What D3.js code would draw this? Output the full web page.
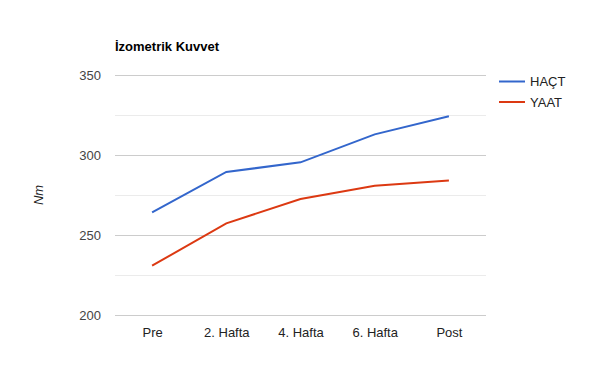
<!DOCTYPE html>
<html><head><meta charset="utf-8">
<script src="https://cdn.jsdelivr.net/npm/d3@7"></script>
<style>body{margin:0;background:#fff}svg{display:block}text{font-family:"Liberation Sans",Arial,sans-serif}</style>
</head><body>
<script>
const categories = ["Pre","2. Hafta","4. Hafta","6. Hafta","Post"];
const seriesNames = ["HAÇT","YAAT"];
const hact = [264.2, 289.4, 295.4, 312.9, 324.2];
const yaat = [230.8, 257.3, 272.5, 280.8, 284.0];
const yTicks = [200, 250, 300, 350];
const yMinor = [225, 275, 325];
const colors = ["#3366cc", "#dc3912"];

const W = 600, H = 390;
const svg = d3.select("body").append("svg").attr("width", W).attr("height", H);
const pLeft = 115, pRight = 486, pTop = 75, pBottom = 315;
const x = d3.scalePoint().domain(categories).range([pLeft, pRight]).padding(0.5);
const y = d3.scaleLinear().domain([200, 350]).range([pBottom, pTop]);

// minor gridlines
svg.append("g").selectAll("line").data(yMinor).join("line")
  .attr("x1", pLeft).attr("x2", pRight).attr("y1", d => y(d)).attr("y2", d => y(d))
  .attr("stroke", "#ebebeb").attr("stroke-width", 1).attr("shape-rendering", "crispEdges");
// major gridlines via axis
const yAxis = svg.append("g").attr("transform", `translate(${pLeft},0)`)
  .call(d3.axisLeft(y).tickValues(yTicks).tickSize(-(pRight - pLeft)).tickPadding(14));
yAxis.select(".domain").remove();
yAxis.selectAll(".tick line").attr("stroke", "#cccccc").attr("shape-rendering", "crispEdges");
yAxis.selectAll(".tick text").attr("fill", "#444").attr("font-size", 13)
  .attr("font-family", '"Liberation Sans",Arial,sans-serif');

const xAxis = svg.append("g").attr("transform", `translate(0,${pBottom})`)
  .call(d3.axisBottom(x).tickSize(0).tickPadding(13));
xAxis.select(".domain").remove();
xAxis.selectAll(".tick text").attr("fill", "#222").attr("font-size", 13)
  .attr("font-family", '"Liberation Sans",Arial,sans-serif');

// lines
const line = d3.line().x((d, i) => x(categories[i])).y(d => y(d));
[hact, yaat].forEach((s, k) => {
  svg.append("path").datum(s).attr("d", line).attr("fill", "none")
    .attr("stroke", colors[k]).attr("stroke-width", 2);
});

// title
svg.append("text").attr("x", 115).attr("y", 50.5).attr("font-size", 13)
  .attr("font-weight", "bold").attr("fill", "#000").text("İzometrik Kuvvet");

// y label
svg.append("text").attr("transform", "translate(43,195) rotate(-90)")
  .attr("text-anchor", "middle").attr("font-size", 13).attr("font-style", "italic")
  .attr("fill", "#222").text("Nm");

// legend
const lg = svg.append("g").selectAll("g").data(seriesNames).join("g")
  .attr("transform", (d, i) => `translate(499,${81.5 + i * 20.5})`);
lg.append("line").attr("x1", 0).attr("x2", 26).attr("y1", 0).attr("y2", 0)
  .attr("stroke", (d, i) => colors[i]).attr("stroke-width", 2);
lg.append("text").attr("x", 31).attr("y", 4.7).attr("font-size", 13).attr("fill", "#222").text(d => d);
</script>
</body></html>
